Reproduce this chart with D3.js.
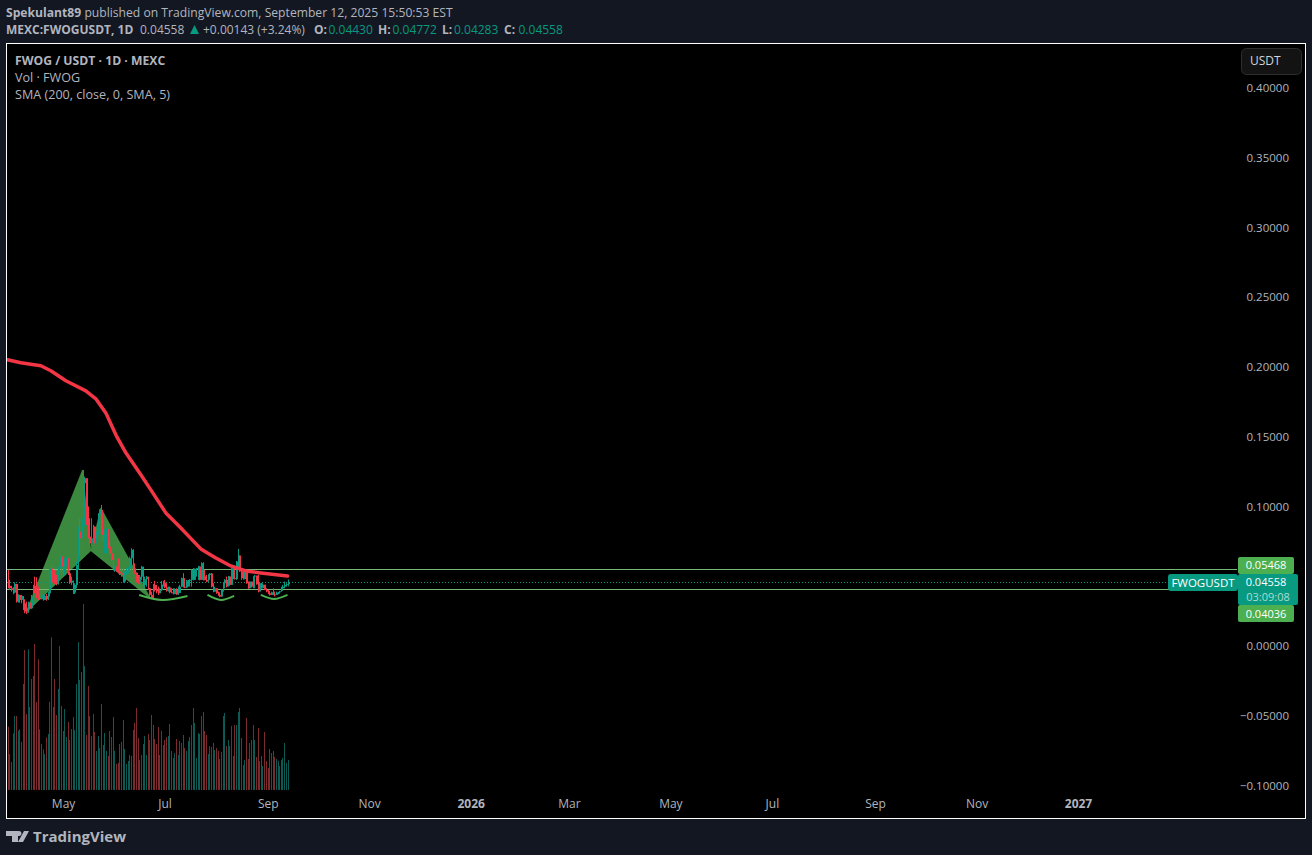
<!DOCTYPE html>
<html>
<head>
<meta charset="utf-8">
<title>FWOG / USDT</title>
<script src="https://cdn.jsdelivr.net/npm/d3@7"></script>
<style>
  html, body { margin: 0; padding: 0; background: #131722; overflow: hidden; }
  svg { display: block; }
  text { font-family: "Open Sans", sans-serif; }
  .domain { display: none; }
</style>
</head>
<body>
<div id="chart"></div>
<script>
// daily candles, first one is Mar 28 2025, open = previous close
const firstDay = "2025-03-28";
const firstOpen = 0.0545;
const closes = [
  .0431,.0414,.0402,.0383,.0445,.0318,.0366,.0330,.0359,.0306,.0247,.0239,.0311,.0270,.0354,.0431,.0390,.0366,.0342,.0335,
  .0366,.0330,.0359,.0335,.0378,.0557,.0454,.0521,.0454,.0445,.0557,.0641,.0569,.0509,.0617,.0629,.0521,.0454,.0469,.0383,
  .0438,.0581,.0820,.0772,.0916,.1167,.1203,.0880,.0784,.0736,.0772,.0856,.0772,.0796,.0940,.0976,.0796,.0760,.0832,.0837,
  .0713,.0665,.0617,.0545,.0569,.0545,.0533,.0521,.0509,.0462,.0521,.0545,.0557,.0629,.0689,.0557,.0526,.0462,.0454,.0497,
  .0569,.0438,.0478,.0497,.0414,.0366,
  .0343,.0438,.0405,.0390,.0378,.0400,.0440,.0455,.0420,.0395,.0420,.0385,.0383,.0372,.0405,.0370,.0380,.0425,.0486,.0425,
  .0420,.0470,.0473,.0474,.0546,.0474,.0553,.0558,.0570,.0474,.0594,.0500,.0474,.0462,.0510,.0520,.0426,.0390,.0414,.0378,
  .0366,.0354,.0402,.0450,.0474,.0426,.0498,.0438,.0558,.0486,.0480,.0605,.0649,.0534,.0486,.0480,.0530,.0450,.0414,.0462,
  .0426,.0498,.0505,.0443,.0390,.0450,.0414,.0440,.0402,.0390,.0378,.0366,.0385,.0370,.0366,.0383,.0385,.0392,.0414,.0426,
  .0438,.0443,.04558
];
const highs = [
  .0545,.0474,.0431,.0421,.0457,.0445,.0371,.0366,.0366,.0354,.0335,.0318,.0318,.0311,.0366,.0438,.0497,.0493,.0426,.0378,
  .0378,.0373,.0373,.0373,.0390,.0574,.0574,.0533,.0545,.0509,.0569,.0689,.0641,.0593,.0629,.0641,.0629,.0533,.0497,.0462,
  .0450,.0605,.0856,.0916,.0928,.1262,.1214,.1167,.1000,.0916,.0916,.0868,.0856,.0820,.0952,.0980,.1011,.0832,.0837,.0844,
  .0832,.0760,.0689,.0665,.0574,.0569,.0629,.0629,.0557,.0557,.0533,.0557,.0569,.0641,.0701,.0694,.0593,.0521,.0509,.0509,
  .0574,.0521,.0497,.0502,.0450,.0414,
  .0390,.0445,.0467,.0438,.0426,.0414,.0467,.0467,.0474,.0450,.0426,.0426,.0414,.0414,.0414,.0414,.0426,.0438,.0490,.0522,
  .0486,.0474,.0474,.0480,.0550,.0558,.0556,.0560,.0575,.0570,.0600,.0601,.0546,.0510,.0515,.0522,.0522,.0450,.0426,.0414,
  .0390,.0385,.0405,.0455,.0480,.0498,.0502,.0500,.0560,.0558,.0570,.0610,.0696,.0649,.0546,.0534,.0535,.0530,.0462,.0462,
  .0450,.0500,.0510,.0498,.0510,.0455,.0450,.0450,.0426,.0414,.0402,.0395,.0390,.0414,.0390,.0390,.0388,.0395,.0425,.0438,
  .0462,.0450,.04772
];
const lows = [
  .0414,.0402,.0390,.0371,.0378,.0311,.0311,.0311,.0306,.0258,.0235,.0230,.0258,.0263,.0266,.0318,.0378,.0342,.0330,.0330,
  .0335,.0325,.0330,.0325,.0330,.0354,.0445,.0450,.0445,.0435,.0440,.0509,.0521,.0497,.0505,.0569,.0509,.0445,.0438,.0373,
  .0373,.0414,.0545,.0653,.0653,.0880,.0856,.0868,.0772,.0725,.0713,.0725,.0736,.0736,.0796,.0820,.0760,.0748,.0665,.0665,
  .0701,.0653,.0605,.0541,.0533,.0533,.0521,.0509,.0497,.0454,.0454,.0509,.0521,.0545,.0545,.0545,.0517,.0454,.0445,.0450,
  .0474,.0431,.0414,.0426,.0402,.0354,
  .0338,.0371,.0390,.0378,.0366,.0378,.0395,.0426,.0414,.0390,.0390,.0378,.0380,.0370,.0372,.0366,.0366,.0380,.0426,.0419,
  .0415,.0415,.0426,.0426,.0426,.0470,.0474,.0498,.0474,.0470,.0474,.0470,.0470,.0458,.0462,.0474,.0420,.0385,.0390,.0375,
  .0360,.0350,.0355,.0390,.0414,.0420,.0438,.0432,.0486,.0480,.0478,.0474,.0546,.0530,.0474,.0478,.0478,.0446,.0410,.0414,
  .0420,.0414,.0414,.0440,.0385,.0425,.0410,.0414,.0400,.0385,.0372,.0362,.0366,.0366,.0355,.0366,.0371,.0375,.0390,.0395,
  .0414,.0426,.04283
];
const volumes = [
  19,10.8,8.4,17,22.2,22.2,17.8,18.2,14.4,31.8,42,22.8,42.2,24.9,33.3,34.2,43.8,26.4,39.2,18.2,
  13.8,12.2,10.8,15.8,16.8,26.4,45.8,24.9,33.3,22.5,30.3,43.2,25.2,17.7,24.3,15.9,20.4,15,18.3,21.9,
  18,31.8,44.4,33,35.4,55.8,37.2,16.5,31.2,22.2,16.2,22.8,17.4,11.7,16.2,12.6,25.8,13.5,17.1,11.7,
  10.2,17.7,15.9,21.9,11.7,7.8,8.1,13.8,14.4,21,12.3,7.8,8.7,10.5,10.2,18,20.1,24.6,15.6,9,
  10.5,13.8,16.2,10.5,16.8,15,
  22.5,19.5,15.3,13.8,18.9,10.5,17.7,13.5,15,15.9,16.2,19.8,11.7,9.6,11.1,15.3,10.5,14.7,14.1,16.5,
  12.6,11.7,14.7,15.9,19.5,24.6,20.1,9.6,17.1,16.8,22.2,23.4,17.7,16.5,10.8,13.2,12.9,14.1,12,12.6,
  11.7,9.3,11.4,22.2,23.1,13.2,15,13.2,19.2,10.2,19.5,19.5,23.4,24.6,15.6,7.5,9,21.6,9.3,14.1,
  15,19.5,15,9.9,18.6,8.7,10.2,7.2,17.4,8.7,6.6,12.3,11.1,11.7,9.9,9.3,8.7,7.2,9,9.6,14.1,8.1,9
];

// SMA 200, read at these dates
const smaDates = ["2025-03-28","2025-04-05","2025-04-17","2025-04-23","2025-05-02","2025-05-14","2025-05-20","2025-05-26","2025-06-01","2025-06-07","2025-06-16","2025-06-22","2025-07-01","2025-07-10","2025-07-22","2025-07-31","2025-08-09","2025-08-18","2025-08-27","2025-09-12"];
const smaValues = [.2052,.2030,.2009,.1973,.1901,.1829,.1772,.1671,.1514,.1385,.1227,.1119,.0954,.0846,.0696,.0631,.0574,.0538,.0524,.0502];

// bat pattern X A B C D
const patternDates = ["2025-04-08","2025-05-12","2025-05-17","2025-05-23","2025-06-22"];
const patternValues = [.0239,.1262,.0683,.0990,.0337];

// the three smiles under the lows
const arcDates = [["2025-06-15","2025-06-29","2025-07-14"],["2025-07-26","2025-08-03","2025-08-11"],["2025-08-27","2025-09-04","2025-09-12"]];
const arcValues = [[.0366,.0330,.0359],[.0366,.0330,.0359],[.0366,.0337,.0366]];

const priceTicks = [0.4,0.35,0.3,0.25,0.2,0.15,0.1,0.05,0,-0.05,-0.1];
const timeTicks = ["2025-05-01","2025-07-01","2025-09-01","2025-11-01","2026-01-01","2026-03-01","2026-05-01","2026-07-01","2026-09-01","2026-11-01","2027-01-01"];
const timeLabels = ["May","Jul","Sep","Nov","2026","Mar","May","Jul","Sep","Nov","2027"];

const lastPrice = 0.04558;
const levelHigh = 0.05468;
const levelLow = 0.04036;

const width = 1312, height = 855;
const pane = {left: 7, right: 1306, top: 44, bottom: 818, axisLeft: 1237};
const up = "#089981", down = "#f23645";
const upVol = "#0b5a53", downVol = "#7b2a2e";
const green = "#4caf50";

const parse = d3.utcParse("%Y-%m-%d");
const DAY = 86400000;

const svg = d3.select("#chart").append("svg")
  .attr("width", width).attr("height", height)
  .attr("viewBox", `0 0 ${width} ${height}`);

svg.append("rect").attr("x", 6.5).attr("y", 43.5).attr("width", 1299).attr("height", 775)
  .attr("fill", "#000").attr("stroke", "#fff").attr("stroke-width", 1);

svg.append("clipPath").attr("id", "plot").append("rect")
  .attr("x", pane.left).attr("y", pane.top)
  .attr("width", pane.axisLeft - pane.left).attr("height", pane.bottom - pane.top);

// scales
const start = parse(firstDay);
const last = new Date(+start + (closes.length - 1) * DAY);
const x = d3.scaleUtc().domain([start, last]).range([7.5, 287.5]);
const y = d3.scaleLinear().domain([0, 0.4]).range([646, 88]);
const yVol = d3.scaleLinear().domain([0, d3.max(volumes)]).range([790, 604]);

const candles = closes.map((c, i) => ({
  date: new Date(+start + i * DAY),
  open: i ? closes[i - 1] : firstOpen,
  close: c, high: highs[i], low: lows[i], vol: volumes[i]
}));
const isUp = d => d.close >= d.open;
const px = d => Math.round(x(d.date));

const plot = svg.append("g").attr("clip-path", "url(#plot)");

// volume
plot.append("g").selectAll("rect").data(candles).join("rect")
  .attr("x", px)
  .attr("y", d => yVol(d.vol))
  .attr("width", 1)
  .attr("height", d => 790 - yVol(d.vol))
  .attr("fill", d => isUp(d) ? upVol : downVol);

// bat pattern, under the candles
const pt = i => [x(parse(patternDates[i])), y(patternValues[i])];
[[0, 1, 2], [2, 3, 4]].forEach(tri => {
  plot.append("path")
    .attr("d", d3.line()(tri.map(pt)) + "Z")
    .attr("fill", green).attr("fill-opacity", 0.78)
    .attr("stroke", green).attr("stroke-opacity", 0.5).attr("stroke-width", 1);
});

// levels and last price
[levelHigh, levelLow].forEach(v => {
  plot.append("line")
    .attr("x1", pane.left).attr("x2", pane.axisLeft)
    .attr("y1", Math.round(y(v)) - 0.5).attr("y2", Math.round(y(v)) - 0.5)
    .attr("stroke", "#76b878").attr("stroke-width", 1);
});
plot.append("line")
  .attr("x1", pane.left).attr("x2", 1168)
  .attr("y1", Math.round(y(lastPrice)) + 0.5).attr("y2", Math.round(y(lastPrice)) + 0.5)
  .attr("stroke", up).attr("stroke-dasharray", "1 2");

// candles
const candle = plot.append("g").selectAll("g").data(candles).join("g")
  .attr("fill", d => isUp(d) ? up : down);
candle.append("rect")
  .attr("x", px)
  .attr("y", d => y(d.high))
  .attr("width", 1)
  .attr("height", d => y(d.low) - y(d.high));
candle.append("rect")
  .attr("x", px)
  .attr("y", d => y(Math.max(d.open, d.close)))
  .attr("width", (d, i) => i < candles.length - 1 ? px(candles[i + 1]) - px(d) : 2)
  .attr("height", d => Math.max(1, Math.abs(y(d.open) - y(d.close))));

// smiles
arcDates.forEach((dates, k) => {
  const line = d3.line().curve(d3.curveNatural)
    .x(d => x(parse(d))).y((d, i) => y(arcValues[k][i]));
  plot.append("path").attr("d", line(dates))
    .attr("fill", "none").attr("stroke", green).attr("stroke-width", 2);
});

// SMA
const smaLine = d3.line().x(d => x(parse(d))).y((d, i) => y(smaValues[i]));
plot.append("path").attr("d", smaLine(smaDates))
  .attr("fill", "none").attr("stroke", down).attr("stroke-width", 3.5)
  .attr("stroke-linejoin", "round").attr("stroke-linecap", "round");

// axes
const fmt = d3.format(".5f");
const yAxis = svg.append("g").attr("transform", "translate(1289,0)")
  .call(d3.axisLeft(y).tickValues(priceTicks).tickSize(0).tickPadding(0).tickFormat(d => fmt(d).replace("-", "\u2212")));
yAxis.selectAll("text").attr("fill", "#b2b5be").attr("font-size", 11.5).style("font-family", '"Open Sans", sans-serif');

const xTime = d3.scaleUtc().domain([start, new Date(+start + 644 * DAY)]).range([6.5, 1078]);
const xAxis = svg.append("g").attr("transform", "translate(0,799)")
  .call(d3.axisBottom(xTime).tickValues(timeTicks.map(parse)).tickSize(0).tickPadding(0)
    .tickFormat((d, i) => timeLabels[i]));
xAxis.selectAll("text").attr("fill", "#b2b5be").attr("font-size", 12).style("font-family", '"Open Sans", sans-serif');
xAxis.selectAll("text").filter((d, i) => timeLabels[i].startsWith("20")).attr("font-weight", 700);

// price tags
const tag = (xp, yp, w, h, fill, rx) => svg.append("rect")
  .attr("x", xp).attr("y", yp).attr("width", w).attr("height", h).attr("rx", rx).attr("fill", fill);
const label = (xp, yp, s, size, fill, weight, anchor) => svg.append("text")
  .attr("x", xp).attr("y", yp).attr("font-size", size).attr("fill", fill)
  .attr("font-weight", weight || 400).attr("text-anchor", anchor || "start").text(s);

tag(1238, 557, 56, 17, green, 2);
tag(1238, 605, 56, 17, green, 2);
tag(1238, 574, 60, 31, up, 2);
tag(1168, 574, 70, 17, up, 3);
label(1266, 569, fmt(levelHigh), 11, "#fff", 400, "middle");
label(1266, 617.5, fmt(levelLow), 11, "#fff", 400, "middle");
label(1266, 585.5, fmt(lastPrice), 11, "#fff", 400, "middle");
label(1268, 600.5, "03:09:08", 11, "#a8dcd2", 400, "middle");
label(1203, 586.5, "FWOGUSDT", 11.5, "#fff", 400, "middle");

// currency button
svg.append("rect").attr("x", 1241.5).attr("y", 48.5).attr("width", 60).attr("height", 26).attr("rx", 5)
  .attr("fill", "#131313").attr("stroke", "#2e2e2e");
label(1250, 65, "USDT", 12, "#d1d4dc");

// header
const head = svg.append("text").attr("x", 6).attr("y", 17).attr("font-size", 12.15).attr("fill", "#b2b5be");
head.append("tspan").attr("font-weight", 700).text("Spekulant89");
head.append("tspan").text(" published on TradingView.com, September 12, 2025 15:50:53 EST");

label(6, 34, "MEXC:FWOGUSDT, 1D", 12, "#b2b5be", 700);
label(140, 34, fmt(lastPrice), 12, "#b2b5be");
svg.append("path").attr("d", "M190 34L199 34L194.5 25Z").attr("fill", up);
label(203, 34, "+0.00143 (+3.24%)", 12, "#b2b5be");
[["O:", 314, "0.04430"], ["H:", 378, "0.04772"], ["L:", 442, "0.04283"], ["C:", 504, "0.04558"]].forEach(o => {
  label(o[1], 34, o[0], 12, "#b2b5be", 700);
  label(o[1] + (o[0] === "L:" ? 12 : 14.5), 34, o[2], 12, up);
});

// legend
label(15, 65, "FWOG / USDT \u00b7 1D \u00b7 MEXC", 12.2, "#b2b5be", 700);
label(15, 82, "Vol \u00b7 FWOG", 12.6, "#b2b5be");
label(15, 99, "SMA (200, close, 0, SMA, 5)", 12.6, "#b2b5be");

// logo
svg.append("path").attr("fill", "#b2b5be")
  .attr("d", "M6 831H18V842H12V836H6ZM19 831A2.5 2.5 0 1 1 18.99 831ZM24 831H29L23 842H18Z");
label(33, 842, "TradingView", 15, "#b2b5be", 700);
</script>
</body>
</html>
